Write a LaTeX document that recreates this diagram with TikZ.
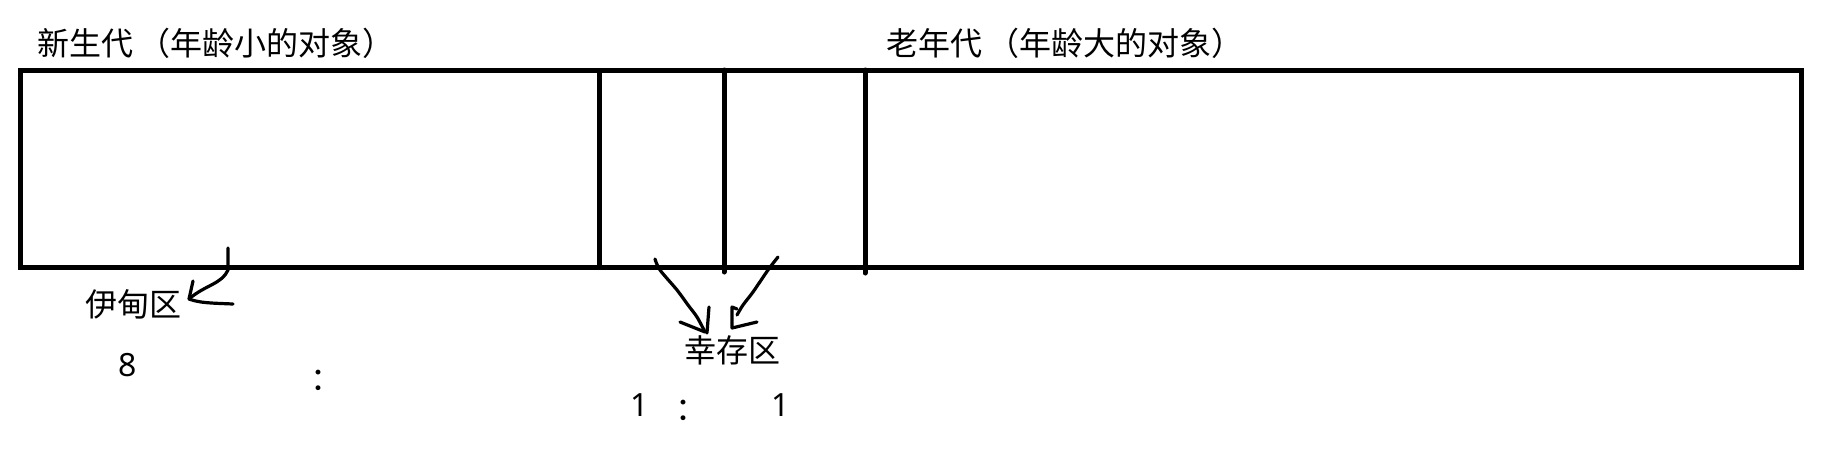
\documentclass[tikz,border=0pt]{standalone}
\usepackage{fontspec}
\setmainfont{Noto Sans CJK SC}
\newfontfamily\digitfont{Noto Sans}
\begin{document}
\begin{tikzpicture}[x=0.5pt,y=-0.5pt,
  wall/.style={line width=2.5pt},
  hand/.style={line width=1.6pt,line cap=round,line join=round},
  lbl/.style={font=\fontsize{16}{19}\selectfont,inner sep=0pt},
  num/.style={font=\digitfont\fontsize{16}{19}\selectfont,inner sep=0pt}]
\useasboundingbox (0,0) rectangle (1848,451);
% heap
\draw[wall] (20,70) rectangle (1801,267);
\draw[wall] (599,70) -- (599,267);
\draw[wall,line cap=round] (724,70) -- (724,272);
\draw[wall,line cap=round] (865,70) -- (865,273);
% headings
\node[lbl,anchor=west] (young) at (37,43) {新生代\hspace{0.15em}（年龄小的对象）};
\node[lbl,anchor=west] (oldgen) at (886,43) {老年代\hspace{0.15em}（年龄大的对象）};
% labels
\node[lbl] (eden) at (133,304) {伊甸区};
\node[lbl] (surv) at (732,350) {幸存区};
\node[num] (eight) at (128,365) {8};
\node[lbl] (colA) at (326,380) {：};
\node[num] (oneA) at (640,405) {1};
\node[lbl] (colB) at (691,410) {：};
\node[num] (oneB) at (781,405) {1};
% hand-drawn arrows
\coordinate (edenTip) at (189,299);
\draw[hand] (228,248) -- (228,270) .. controls (222,284) and (205,285) .. (edenTip);
\draw[hand] (193,281) -- (edenTip) .. controls (200,303) and (210,303) .. (233,304);
\coordinate (s0Tip) at (705,332);
\draw[hand] plot[smooth] coordinates {(655,259) (660,270) (677,290) (688,305) (697,317) (s0Tip)};
\draw[hand] (680,322) -- (s0Tip);
\draw[hand] (709,307) -- (707,333);
\coordinate (s1Tip) at (732,328);
\draw[hand] plot[smooth] coordinates {(778,257) (768,270) (753,292) (743,305) (737,315)};
\draw[hand] (737,309) -- (732,307) -- (s1Tip) -- (757,322);
\end{tikzpicture}
\end{document}
